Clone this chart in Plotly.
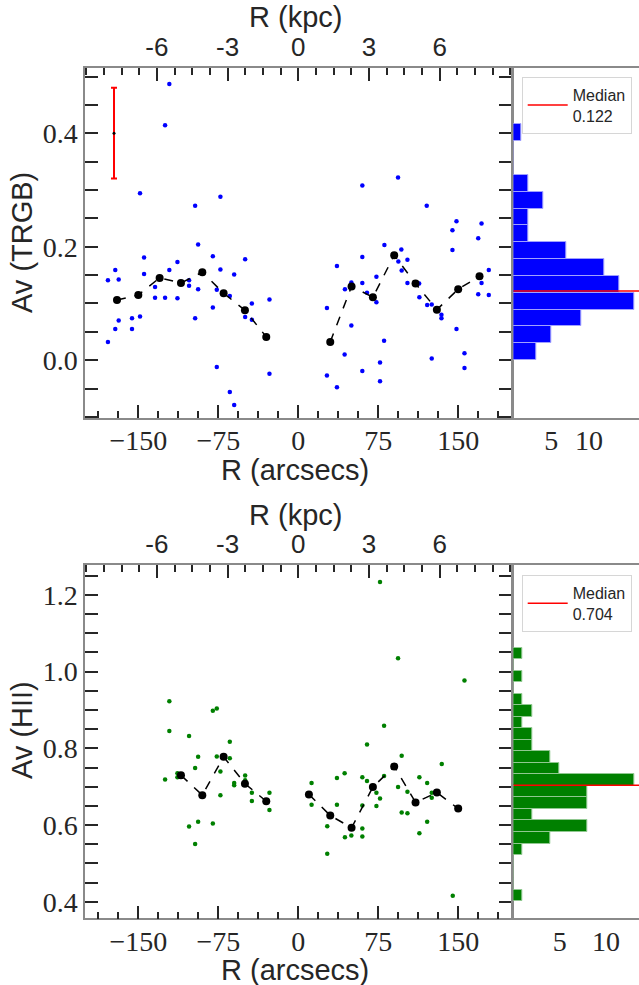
import plotly.graph_objects as go

# ---------------- data ----------------
# TRGB individual points (R in arcsec, Av)
trgb_R = [-120.9, -124.9, -148.4, -73.0, -96.7, -93.9, -80.1, -144.6, -49.8, -113.3,
          -171.6, -120.9, -73.0, -178.5, -168.4, -144.6, -60.1, -134.3, -102.4, -102.4,
          -93.9, -76.4, -134.3, -124.9, -113.3, -64.2, -43.5, -27.0, -80.1, -168.4,
          -148.4, -155.9, -96.7, -49.8, -43.5, -171.6, -155.9, -178.5, -76.4, -27.0,
          -64.2, -60.1,
          60.1, 93.6, 120.5, 148.4, 171.9, 144.6, 168.8, 80.8, 144.6, 96.7,
          60.1, 102.4, 36.3, 93.9, 97.0, 178.7, 73.3, 49.8, 60.1, 102.4,
          113.4, 171.9, 43.8, 64.5, 73.3, 113.6, 168.8, 178.7, 120.9, 125.2,
          134.3, 134.3, 26.9, 49.8, 148.4, 80.5, 43.5, 155.9, 125.2, 76.7,
          155.9, 60.1, 26.9, 76.7, 36.3]
trgb_Av = [0.487, 0.414, 0.294, 0.288, 0.272, 0.204, 0.183, 0.181, 0.178, 0.173,
           0.159, 0.159, 0.160, 0.141, 0.142, 0.152, 0.151, 0.129, 0.141, 0.131,
           0.125, 0.124, 0.110, 0.110, 0.109, 0.113, 0.100, 0.107, 0.093, 0.070,
           0.077, 0.074, 0.074, 0.076, 0.071, 0.055, 0.055, 0.032, -0.012, -0.024,
           -0.056, -0.079,
           0.308, 0.322, 0.272, 0.245, 0.241, 0.229, 0.215, 0.203, 0.194, 0.195,
           0.182, 0.177, 0.166, 0.174, 0.158, 0.159, 0.147, 0.137, 0.136, 0.136,
           0.135, 0.136, 0.125, 0.119, 0.102, 0.111, 0.116, 0.115, 0.097, 0.098,
           0.080, 0.074, 0.092, 0.061, 0.055, 0.034, 0.010, 0.012, 0.003, -0.004,
           -0.014, -0.019, -0.027, -0.037, -0.048]

# TRGB binned medians
trgb_bin_R_left = [-170, -150, -130, -110, -90, -70, -50, -30]
trgb_bin_Av_left = [0.106, 0.115, 0.145, 0.136, 0.155, 0.118, 0.088, 0.041]
trgb_bin_R_right = [30, 50, 70, 90, 110, 130, 150, 170]
trgb_bin_Av_right = [0.032, 0.130, 0.111, 0.185, 0.135, 0.089, 0.125, 0.148]

# typical error bar
err_R = [-172.8]
err_Av = [0.40]
err_size = [0.08]

# TRGB histogram
trgb_hist_start = 0.0
trgb_hist_width = 0.0297
trgb_hist_counts = [3, 5, 9, 16, 14, 12, 7, 2, 2, 4, 2, 0, 0, 1]
trgb_median = 0.122

# HII individual points
hii_R = [-120.9, -120.9, -102.4, -80.1, -76.4, -64.2, -93.9, -76.4, -64.2, -96.7,
         -73.0, -124.9, -113.3, -113.3, -49.8, -49.8, -60.1, -60.1, -43.5, -27.0,
         -73.0, -43.5, -27.0, -93.9, -102.4, -80.1, -96.7,
         76.7, 93.6, 155.9, 80.5, 64.5, 97.0, 134.6, 43.5, 36.3, 60.1,
         64.5, 113.6, 120.9, 12.5, 80.5, 93.6, 102.4, 73.3, 125.2, 125.2,
         76.7, 12.5, 36.3, 60.1, 73.3, 97.0, 102.4, 120.9, 27.2, 60.1,
         113.6, 49.8, 60.1, 43.8, 27.2, 144.9]
hii_Av = [0.923, 0.845, 0.832, 0.898, 0.904, 0.817, 0.778, 0.779, 0.774, 0.749,
          0.740, 0.719, 0.735, 0.725, 0.729, 0.717, 0.710, 0.704, 0.684, 0.684,
          0.678, 0.663, 0.639, 0.609, 0.596, 0.604, 0.551,
          1.234, 1.035, 0.977, 0.859, 0.810, 0.781, 0.759, 0.735, 0.723, 0.725,
          0.715, 0.725, 0.710, 0.710, 0.728, 0.699, 0.687, 0.684, 0.684, 0.671,
          0.669, 0.653, 0.653, 0.651, 0.650, 0.633, 0.631, 0.609, 0.597, 0.591,
          0.579, 0.573, 0.570, 0.568, 0.525, 0.416]

hii_bin_R_left = [-110, -90, -70, -50, -30]
hii_bin_Av_left = [0.730, 0.678, 0.778, 0.708, 0.662]
hii_bin_R_right = [10, 30, 50, 70, 90, 110, 130, 150]
hii_bin_Av_right = [0.680, 0.625, 0.593, 0.699, 0.753, 0.659, 0.685, 0.643]

hii_hist_start = 0.402
hii_hist_width = 0.030
hii_hist_counts = [1, 0, 0, 0, 1, 4, 8, 2, 8, 8, 13, 5, 4, 2, 2, 1, 2, 1, 0, 1, 0, 1]
hii_median = 0.704

# axis ticks
arcsec_ticks = [-150, -75, 0, 75, 150]
arcsec_labels = ["\u2212150", "\u221275", "0", "75", "150"]
kpc_ticks = [-6, -3, 0, 3, 6]
kpc_labels = ["-6", "-3", "0", "3", "6"]
trgb_yticks = [0.0, 0.2, 0.4]
trgb_ylabels = ["0.0", "0.2", "0.4"]
hii_yticks = [0.4, 0.6, 0.8, 1.0, 1.2]
hii_ylabels = ["0.4", "0.6", "0.8", "1.0", "1.2"]
hist_ticks = [5, 10]
hist_labels = ["5", "10"]

# ---------------- layout geometry ----------------
W, H = 639, 985
def px_x(v):
    return v / W
def px_y(v):
    return 1 - v / H

main_dom = [px_x(85), px_x(511.5)]
hist_dom = [px_x(513.3), 1.0]
top_dom = [px_y(418), px_y(68)]
bot_dom = [px_y(918.3), px_y(565)]

R_RANGE = [-200, 200]
KPC_RANGE = [-9.05, 9.05]
TRGB_RANGE = [-0.102, 0.515]
HII_RANGE = [0.357, 1.278]

SERIF = "Liberation Serif"
SANS = "Liberation Sans"
TXT = "#262626"
TICKC = "#262626"
FRAME = "#8a8a8a"

fig = go.Figure()

def hist_bar(start, width, counts, color, edge, xa, ya):
    centers = [start + width * (i + 0.5) for i in range(len(counts))]
    return go.Bar(x=counts, y=centers, width=width, orientation="h",
                  marker=dict(color=color, line=dict(color=edge, width=1)),
                  xaxis=xa, yaxis=ya, showlegend=False, hoverinfo="skip")

# ---- top panel ----
fig.add_trace(go.Scatter(x=trgb_R, y=trgb_Av, mode="markers",
                         marker=dict(color="#0000ff", size=4.5),
                         xaxis="x", yaxis="y", showlegend=False))
for xs, ys in [(trgb_bin_R_left, trgb_bin_Av_left), (trgb_bin_R_right, trgb_bin_Av_right)]:
    fig.add_trace(go.Scatter(x=xs, y=ys, mode="lines+markers",
                             line=dict(color="black", dash="dash", width=1.5),
                             marker=dict(color="black", size=8),
                             xaxis="x", yaxis="y", showlegend=False))
fig.add_trace(go.Scatter(x=err_R, y=err_Av, mode="markers",
                         marker=dict(color="black", size=3),
                         error_y=dict(type="data", array=err_size, color="red",
                                      thickness=2, width=3),
                         xaxis="x", yaxis="y", showlegend=False))
# dummy for kpc axis
fig.add_trace(go.Scatter(x=[None], y=[None], xaxis="x2", yaxis="y", showlegend=False))

fig.add_trace(hist_bar(trgb_hist_start, trgb_hist_width, trgb_hist_counts,
                       "#0000ff", "#a0a0ff", "x3", "y3"))
fig.add_trace(go.Scatter(x=[0, 100], y=[trgb_median, trgb_median], mode="lines",
                         line=dict(color="red", width=1.5),
                         name="Median<br>%.3f" % trgb_median,
                         xaxis="x3", yaxis="y3", legend="legend"))

# ---- bottom panel ----
fig.add_trace(go.Scatter(x=hii_R, y=hii_Av, mode="markers",
                         marker=dict(color="#008000", size=4.5),
                         xaxis="x4", yaxis="y4", showlegend=False))
for xs, ys in [(hii_bin_R_left, hii_bin_Av_left), (hii_bin_R_right, hii_bin_Av_right)]:
    fig.add_trace(go.Scatter(x=xs, y=ys, mode="lines+markers",
                             line=dict(color="black", dash="dash", width=1.5),
                             marker=dict(color="black", size=8),
                             xaxis="x4", yaxis="y4", showlegend=False))
fig.add_trace(go.Scatter(x=[None], y=[None], xaxis="x5", yaxis="y4", showlegend=False))

fig.add_trace(hist_bar(hii_hist_start, hii_hist_width, hii_hist_counts,
                       "#008000", "#90c890", "x6", "y6"))
fig.add_trace(go.Scatter(x=[0, 100], y=[hii_median, hii_median], mode="lines",
                         line=dict(color="red", width=1.5),
                         name="Median<br>%.3f" % hii_median,
                         xaxis="x6", yaxis="y6", legend="legend2"))

tickfont_serif = dict(family=SERIF, size=28, color=TXT)
tickfont_sans = dict(family=SANS, size=26, color=TXT)

def arcsec_axis(anchor):
    return dict(domain=main_dom, anchor=anchor, range=R_RANGE, tickmode="array",
                tickvals=arcsec_ticks, ticktext=arcsec_labels, ticks="inside",
                ticklen=13, tickwidth=2, tickcolor=TICKC, showline=True,
                linecolor=FRAME, linewidth=1.5, mirror=False, showgrid=False,
                zeroline=False, tickfont=tickfont_serif, ticklabelstandoff=-3,
                minor=dict(ticks="inside", ticklen=7, tickwidth=2, tickcolor=TICKC,
                           dtick=18.75, tick0=0, showgrid=False))

def kpc_axis(over, anchor):
    return dict(domain=main_dom, anchor=anchor, overlaying=over, side="top",
                range=KPC_RANGE, tickmode="array", tickvals=kpc_ticks,
                ticktext=kpc_labels, ticks="inside", ticklen=13, tickwidth=2,
                tickcolor=TICKC, showline=True, linecolor=FRAME, linewidth=1.5,
                showgrid=False, zeroline=False, tickfont=tickfont_sans,
                minor=dict(ticks="inside", ticklen=7, tickwidth=2, tickcolor=TICKC,
                           dtick=0.75, tick0=0, showgrid=False))

def av_axis(dom, anchor, rng, tv, tt):
    return dict(domain=dom, anchor=anchor, range=rng, tickmode="array",
                tickvals=tv, ticktext=tt, ticks="inside", ticklen=13, tickwidth=2,
                tickcolor=TICKC, showline=True, linecolor=FRAME, linewidth=1.5,
                mirror="allticks", showgrid=False, zeroline=False,
                tickfont=tickfont_serif,
                minor=dict(ticks="inside", ticklen=7, tickwidth=2, tickcolor=TICKC,
                           dtick=0.05, tick0=0, showgrid=False))

def hist_x(anchor, rng):
    return dict(domain=hist_dom, anchor=anchor, range=rng, tickmode="array",
                tickvals=hist_ticks, ticktext=hist_labels, ticks="",
                showline=True, linecolor=FRAME, linewidth=1.5, mirror=True,
                showgrid=False, zeroline=False, tickfont=tickfont_serif,
                ticklabelstandoff=-3)

def hist_y(dom, anchor, rng):
    return dict(domain=dom, anchor=anchor, range=rng, showticklabels=False,
                ticks="", showline=True, linecolor=FRAME, linewidth=1.5,
                showgrid=False, zeroline=False)

legend_style = dict(xanchor="left", yanchor="top", bgcolor="white",
                    bordercolor="#d6d6d6", borderwidth=1, itemwidth=40,
                    font=dict(family=SANS, size=16, color=TXT))

fig.update_layout(
    width=W, height=H, margin=dict(l=0, r=0, t=0, b=0),
    plot_bgcolor="white", paper_bgcolor="white", bargap=0,
    xaxis=arcsec_axis("y"),
    xaxis2=kpc_axis("x", "y"),
    yaxis=av_axis(top_dom, "x", TRGB_RANGE, trgb_yticks, trgb_ylabels),
    xaxis3=hist_x("y3", [0, 16.6]),
    yaxis3=hist_y(top_dom, "x3", TRGB_RANGE),
    xaxis4=arcsec_axis("y4"),
    xaxis5=kpc_axis("x4", "y4"),
    yaxis4=av_axis(bot_dom, "x4", HII_RANGE, hii_yticks, hii_ylabels),
    xaxis6=hist_x("y6", [0, 13.55]),
    yaxis6=hist_y(bot_dom, "x6", HII_RANGE),
    legend=dict(x=px_x(521.7), y=px_y(76.7), **legend_style),
    legend2=dict(x=px_x(521.7), y=px_y(575), **legend_style),
)

def label(text, x, y, angle=0):
    fig.add_annotation(text=text, x=px_x(x), y=px_y(y), xref="paper", yref="paper",
                       xanchor="center", yanchor="middle", showarrow=False,
                       textangle=angle, font=dict(family=SANS, size=29, color=TXT))

label("R (kpc)", 295, 17)
label("R (arcsecs)", 295, 470)
label("R (kpc)", 295, 515)
label("R (arcsecs)", 295, 970)
label("Av (TRGB)", 22, 243, -90)
label("Av (HII)", 22, 730, -90)

fig.write_html("out.html")
